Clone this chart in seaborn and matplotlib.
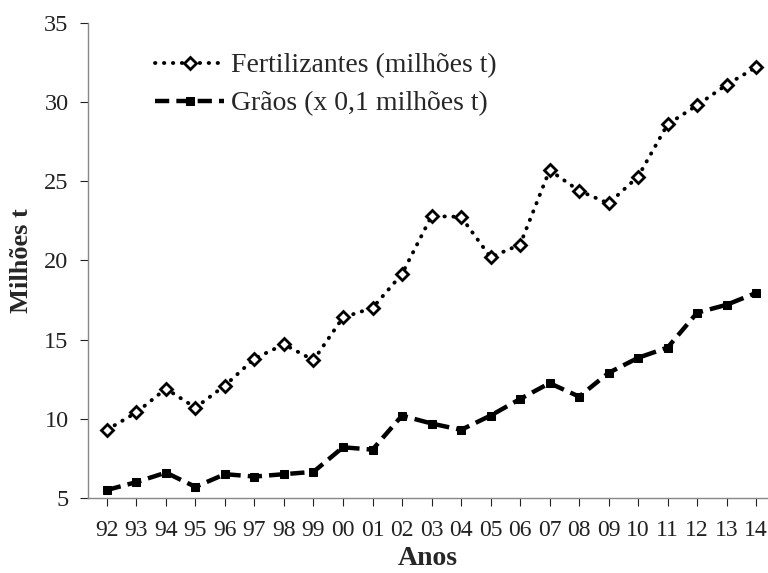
import matplotlib
matplotlib.use("Agg")
import matplotlib.pyplot as plt
import seaborn as sns
import pandas as pd

anos = ['92', '93', '94', '95', '96', '97', '98', '99', '00', '01', '02', '03',
        '04', '05', '06', '07', '08', '09', '10', '11', '12', '13', '14']
fertilizantes = [9.3, 10.4, 11.9, 10.7, 12.1, 13.8, 14.7, 13.7, 16.4, 17.0, 19.15, 22.8,
                 22.75, 20.2, 21.0, 25.7, 24.4, 23.6, 25.3, 28.6, 29.8, 31.1, 32.2]
graos = [5.5, 6.0, 6.6, 5.7, 6.5, 6.35, 6.5, 6.65, 8.2, 8.05, 10.2, 9.7,
         9.3, 10.2, 11.25, 12.25, 11.4, 12.9, 13.85, 14.5, 16.7, 17.2, 17.95]

sns.set_style("white")
plt.rcParams['font.family'] = ['Liberation Serif', 'DejaVu Serif']

df = pd.DataFrame({'pos': range(len(anos)), 'fert': fertilizantes, 'graos': graos})

fig = plt.figure(figsize=(7.68, 5.73), dpi=100)
ax = fig.add_axes([0.1146, 0.131, 0.8854, 0.829])

sns.lineplot(data=df, x='pos', y='fert', ax=ax, color='black', lw=2.8,
             marker='D', markersize=6, markerfacecolor='white', markeredgecolor='black',
             markeredgewidth=2, label='Fertilizantes (milhões t)')
sns.lineplot(data=df, x='pos', y='graos', ax=ax, color='black', lw=3.2,
             marker='s', markersize=5.5, markerfacecolor='black', markeredgecolor='black',
             label='Grãos (x 0,1 milhões t)')

lines = ax.get_lines()
lines[0].set_dashes([0.1, 2.2])
lines[0].set_dash_capstyle('round')
lines[1].set_dashes([3.2, 1.6])

ax.set_xlim(-0.64, 22.4)
ax.set_ylim(5, 35)
ax.set_yticks([5, 10, 15, 20, 25, 30, 35])
ax.set_xticks(range(len(anos)))
ax.set_xticklabels(anos)
ax.tick_params(axis='y', labelsize=17.5, direction='out', length=6,
               left=True, pad=8, colors='#222222')
ax.tick_params(axis='x', labelsize=17, direction='out', length=6,
               bottom=True, pad=10, colors='#222222')
for t in ax.get_xticklines() + ax.get_yticklines():
    t.set_color('#888888')

for s in ['top', 'right']:
    ax.spines[s].set_visible(False)
for s in ['left', 'bottom']:
    ax.spines[s].set_color('#888888')
    ax.spines[s].set_linewidth(1)

ax.set_xlabel('Anos', fontsize=20, fontweight='bold', va='center')
ax.set_ylabel('Milhões t', fontsize=19, fontweight='bold', va='center')
ax.xaxis.set_label_coords(0.5, -0.128)
ax.yaxis.set_label_coords(-0.0985, 0.5)

leg = ax.legend(loc='upper left', bbox_to_anchor=(155 / 768, 1 - 53 / 573),
                bbox_transform=fig.transFigure, frameon=False, borderaxespad=0,
                borderpad=0, numpoints=1, fontsize=20, handlelength=2.5,
                handletextpad=0.25, labelspacing=0.45)

fig.savefig('out.png', dpi=100)
